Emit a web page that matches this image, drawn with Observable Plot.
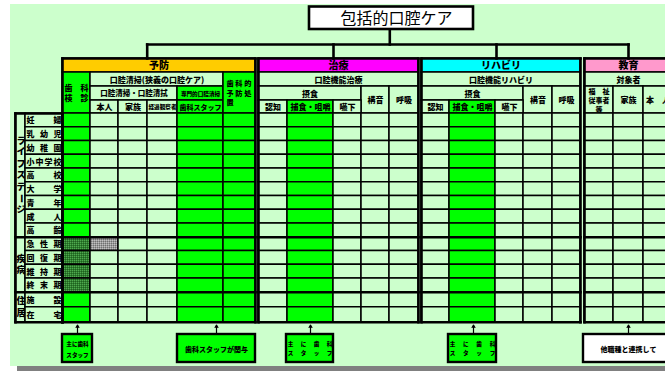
<!DOCTYPE html>
<html><head><meta charset="utf-8">
<script src="https://cdn.jsdelivr.net/npm/d3@7"></script>
<script src="https://cdn.jsdelivr.net/npm/@observablehq/plot@0.6"></script>
<style>body{margin:0;background:#fff}</style>
</head><body><div id="chart"></div>
<script>
// ---------- data ----------
const title = "包括的口腔ケア";
const sections = ["予防", "治療", "リハビリ", "教育"];
const sectionColors = ["#ffcc00", "#ff00ff", "#00ffff", "#ff99cc"];
const rowGroups = ["ライフステージ", "疾病", "住居"];
const rowGroupSizes = [9, 4, 2];
const rowLabels = ["妊婦", "乳幼児", "幼稚園", "小中学校", "高校", "大学", "青年", "成人", "高齢",
                   "急性期", "回復期", "維持期", "終末期", "施設", "在宅"];
const preventionColumns = ["歯科検診", "本人", "家族", "経過観察者", "歯科スタッフ", "歯科的予防処置"];
const treatmentColumns = ["認知", "捕食・咀嚼", "嚥下", "構音", "呼吸"];
const rehabColumns = ["認知", "捕食・咀嚼", "嚥下", "構音", "呼吸"];
const educationColumns = ["福祉従事者等", "家族", "本人"];
const sectionColumns = [preventionColumns, treatmentColumns, rehabColumns, educationColumns];
const greenColumns = [["歯科検診", "歯科スタッフ", "歯科的予防処置"], ["捕食・咀嚼"], ["捕食・咀嚼"], []];
const hatchedDark = {section: "予防", column: "歯科検診", rows: ["急性期", "回復期", "維持期", "終末期"]};
const hatchedGray = {section: "予防", column: "本人", rows: ["急性期"]};
const subTitles = ["口腔清掃(狭義の口腔ケア)", "口腔機能治療", "口腔機能リハビリ", "対象者"];
const notes = ["主に歯科\nスタッフ", "歯科スタッフが関与", "主に歯科|スタッフ", "主に歯科|スタッフ", "他職種と連携して"];
const noteGreen = [true, true, true, true, false];

// ---------- layout ----------
const W = 665, H = 371;
const LIGHT = "#ccffcc", GREEN = "#00ff00";
const hdrY = [58, 72, 86, 100, 113];
const rowY = [113];
for (let i = 0; i < rowLabels.length; i++) rowY.push(rowY[i] + (i < 13 ? 13.75 : 15));
const sectionEdges = [[62, 90, 118, 147, 177, 223, 255], [258, 287, 333, 361, 389, 418],
                      [421, 449, 495, 523, 552, 580], [584, 613, 643, 672]];
const labelEdges = [15, 25, 62];
const noteX = [[62, 92], [177, 255], [286, 333], [448, 496], [583, 700]];
const noteArrowX = [77, 216, 310, 473, 628];
const noteY = [334, 362];

// header cell structure (grid indices)
const headerCells = [
  [
    {c: [0, 1], r: [1, 4], text: "歯　科|検　診", green: true, mode: "split", gap: 9.5},
    {c: [1, 5], r: [1, 2], text: subTitles[0]},
    {c: [1, 4], r: [2, 3], text: "口腔清掃・口腔清拭", size: 7.5},
    {c: [4, 5], r: [2, 3], text: "専門的口腔清掃", green: true, size: 5.6},
    {c: [1, 2], r: [3, 4], text: preventionColumns[1]},
    {c: [2, 3], r: [3, 4], text: preventionColumns[2]},
    {c: [3, 4], r: [3, 4], text: preventionColumns[3], size: 5.6},
    {c: [4, 5], r: [3, 4], text: preventionColumns[4], green: true, size: 7},
    {c: [5, 6], r: [1, 4], text: "歯 科 的|予 防 処|置", green: true, mode: "left", gap: 9.4}
  ],
  [
    {c: [0, 5], r: [1, 2], text: subTitles[1]},
    {c: [0, 3], r: [2, 3], text: "摂食"},
    {c: [3, 4], r: [2, 4], text: treatmentColumns[3]},
    {c: [4, 5], r: [2, 4], text: treatmentColumns[4]},
    {c: [0, 1], r: [3, 4], text: treatmentColumns[0]},
    {c: [1, 2], r: [3, 4], text: treatmentColumns[1], green: true},
    {c: [2, 3], r: [3, 4], text: treatmentColumns[2]}
  ],
  [
    {c: [0, 5], r: [1, 2], text: subTitles[2]},
    {c: [0, 3], r: [2, 3], text: "摂食"},
    {c: [3, 4], r: [2, 4], text: rehabColumns[3]},
    {c: [4, 5], r: [2, 4], text: rehabColumns[4]},
    {c: [0, 1], r: [3, 4], text: rehabColumns[0]},
    {c: [1, 2], r: [3, 4], text: rehabColumns[1], green: true},
    {c: [2, 3], r: [3, 4], text: rehabColumns[2]}
  ],
  [
    {c: [0, 3], r: [1, 2], text: subTitles[3]},
    {c: [0, 1], r: [2, 4], text: "福　祉|従事者|等", size: 7, mode: "split", gap: 9},
    {c: [1, 2], r: [2, 4], text: educationColumns[1]},
    {c: [2, 3], r: [2, 4], text: "本　人"}
  ]
];

// ---------- build geometry ----------
const rects = [];
const texts = [];
const leftTexts = [];
const glyphs = [];
const thick = [];

rects.push({x1: 10, x2: W, y1: 4, y2: 366, fill: LIGHT, stroke: "none"});
rects.push({x1: 17, x2: W, y1: 366, y2: H, fill: "#808080", stroke: "none"});

sections.forEach((s, si) => {
  const ex = sectionEdges[si];
  const cols = sectionColumns[si];
  rects.push({x1: ex[0], x2: ex[ex.length - 1], y1: hdrY[0], y2: hdrY[1], fill: sectionColors[si], stroke: "black"});
  texts.push({x: (ex[0] + ex[ex.length - 1]) / 2, y: (hdrY[0] + hdrY[1]) / 2 + 0.5, text: s, size: 10});
  headerCells[si].forEach(h => {
    const x1 = ex[h.c[0]], x2 = ex[h.c[1]], y1 = hdrY[h.r[0]], y2 = hdrY[h.r[1]];
    rects.push({x1, x2, y1, y2, fill: h.green ? GREEN : LIGHT, stroke: "black"});
    if (h.mode === "split" || h.mode === "left") {
      const lines = h.text.split("|");
      const yc = (y1 + y2) / 2 + 0.5;
      lines.forEach((line, li) => {
        const y = yc + (li - (lines.length - 1) / 2) * h.gap;
        if (h.mode === "left") leftTexts.push({x: x1 + 3, y, text: line, size: 7.2});
        else texts.push({x: (x1 + x2) / 2, y, text: line, size: h.size || 8});
      });
    } else {
      texts.push({x: (x1 + x2) / 2, y: (y1 + y2) / 2 + 0.5, text: h.text, size: h.size || 8});
    }
  });
  cols.forEach((col, ci) => {
    rowLabels.forEach((row, ri) => {
      let fill = greenColumns[si].includes(col) ? GREEN : LIGHT;
      if (s === hatchedDark.section && col === hatchedDark.column && hatchedDark.rows.includes(row)) fill = "url(#hatchDark)";
      if (s === hatchedGray.section && col === hatchedGray.column && hatchedGray.rows.includes(row)) fill = "url(#hatchGray)";
      rects.push({x1: ex[ci], x2: ex[ci + 1], y1: rowY[ri], y2: rowY[ri + 1], fill, stroke: "black"});
    });
  });
});

// left label area
let start = 0;
rowGroups.forEach((g, gi) => {
  const n = rowGroupSizes[gi];
  const y1 = rowY[start], y2 = rowY[start + n];
  rects.push({x1: labelEdges[0], x2: labelEdges[1], y1, y2, fill: LIGHT, stroke: "black"});
  const chars = [...g];
  const step = 11.5;
  const yc = (y1 + y2) / 2;
  chars.forEach((ch, k) => glyphs.push({x: 20.5, y: yc + (k - (chars.length - 1) / 2) * step, text: ch, size: 9, rotate: ch === "ー" ? 90 : 0}));
  start += n;
});
rowLabels.forEach((lab, ri) => {
  rects.push({x1: labelEdges[1], x2: labelEdges[2], y1: rowY[ri], y2: rowY[ri + 1], fill: LIGHT, stroke: "black"});
  const chars = [...lab];
  const a = labelEdges[1] + 5, b = labelEdges[2] - 5;
  chars.forEach((ch, k) => glyphs.push({x: a + k * (b - a) / (chars.length - 1), y: (rowY[ri] + rowY[ri + 1]) / 2 + 0.5, text: ch, size: 8, rotate: 0}));
});

// thick outlines
function box(x1, x2, y1, y2) {
  thick.push({x1, y1, x2, y2: y1}, {x1, y1: y2, x2, y2}, {x1, y1, x2: x1, y2}, {x1: x2, y1, x2, y2});
}
sections.forEach((s, si) => {
  const ex = sectionEdges[si];
  box(ex[0], ex[ex.length - 1], hdrY[0], rowY[rowY.length - 1]);
  [9, 13].forEach(k => thick.push({x1: ex[0], x2: ex[ex.length - 1], y1: rowY[k], y2: rowY[k]}));
});
box(labelEdges[0], labelEdges[2], rowY[0], rowY[rowY.length - 1]);
[9, 13].forEach(k => thick.push({x1: labelEdges[0], x2: labelEdges[2], y1: rowY[k], y2: rowY[k]}));

// tree connectors
const titleBox = {x1: 309, x2: 473, y1: 6.5, y2: 29};
const busY = 44;
const drops = [146.7, 333, 496, 628];
thick.push({x1: 389.3, x2: 389.3, y1: titleBox.y2, y2: busY});
thick.push({x1: drops[0], x2: drops[drops.length - 1], y1: busY, y2: busY});
drops.forEach(x => thick.push({x1: x, x2: x, y1: busY, y2: hdrY[0]}));

// notes
const noteTexts = [], noteArrows = [];
notes.forEach((t, i) => {
  const [x1, x2] = noteX[i];
  rects.push({x1, x2, y1: noteY[0], y2: noteY[1], fill: noteGreen[i] ? GREEN : "white", stroke: "black", note: true});
  noteArrows.push({x: noteArrowX[i], y1: 333, y2: 324.5});
  if (t.includes("|")) {
    t.split("|").forEach((line, li) => {
      const chars = [...line];
      const a = x1 + 4, b = x2 - 4;
      chars.forEach((ch, k) => glyphs.push({x: a + k * (b - a) / (chars.length - 1), y: 343.5 + li * 9.5, text: ch, size: 5.6, rotate: 0}));
    });
  } else if (t.includes("\n")) {
    t.split("\n").forEach((line, li) => noteTexts.push({x: (x1 + x2) / 2, y: 343.5 + li * 11.5, text: line, size: 5.6}));
  } else {
    noteTexts.push({x: i === 4 ? noteArrowX[i] : (x1 + x2) / 2, y: 349, text: t, size: 7});
  }
});

const font = "'Noto Sans CJK JP', 'Noto Sans', sans-serif";
const txt = {x: "x", y: "y", text: "text", fontSize: "size", fontWeight: 900, fill: "black"};

const chart = Plot.plot({
  width: W, height: H, margin: 0,
  x: {domain: [0, W], range: [0, W], axis: null},
  y: {domain: [0, H], range: [0, H], axis: null},
  color: {type: "identity"},
  style: {fontFamily: font, background: "white"},
  marks: [
    Plot.rect(rects.filter(d => d.stroke === "none"), {x1: "x1", x2: "x2", y1: "y1", y2: "y2", fill: "fill"}),
    Plot.rect(rects.filter(d => d.stroke !== "none" && !d.note), {x1: "x1", x2: "x2", y1: "y1", y2: "y2", fill: "fill", stroke: "black", strokeWidth: 1.5}),
    Plot.link(thick, {x1: "x1", y1: "y1", x2: "x2", y2: "y2", stroke: "black", strokeWidth: 2.6, strokeLinecap: "square"}),
    Plot.rect([titleBox], {x1: "x1", x2: "x2", y1: "y1", y2: "y2", fill: "white", stroke: "black", strokeWidth: 2.6}),
    Plot.text([titleBox], {x: d => (d.x1 + d.x2) / 2 + 5, y: d => (d.y1 + d.y2) / 2 + 0.5, text: () => title, fontSize: 16, fill: "black", fontWeight: "normal"}),
    Plot.rect(rects.filter(d => d.note), {x1: "x1", x2: "x2", y1: "y1", y2: "y2", fill: "fill", stroke: "black", strokeWidth: 2.4}),
    Plot.arrow(noteArrows, {x1: "x", x2: "x", y1: "y1", y2: "y2", stroke: "black", strokeWidth: 1.2, headLength: 4, bend: 0}),
    Plot.text(texts, txt),
    Plot.text(leftTexts, {...txt, textAnchor: "start"}),
    Plot.text(glyphs, {...txt, rotate: "rotate"}),
    Plot.text(noteTexts, txt)
  ]
});

// patterns for hatched cells
const defs = d3.select(chart).insert("defs", ":first-child");
const pd = defs.append("pattern").attr("id", "hatchDark").attr("width", 2).attr("height", 2).attr("patternUnits", "userSpaceOnUse");
pd.append("rect").attr("width", 2).attr("height", 2).attr("fill", "#2f7f2f");
pd.append("rect").attr("width", 1).attr("height", 1).attr("fill", "#4fa84f");
pd.append("rect").attr("x", 1).attr("y", 1).attr("width", 1).attr("height", 1).attr("fill", "#1f5f1f");
const pg = defs.append("pattern").attr("id", "hatchGray").attr("width", 2).attr("height", 2).attr("patternUnits", "userSpaceOnUse");
pg.append("rect").attr("width", 2).attr("height", 2).attr("fill", "#9a9a9a");
pg.append("rect").attr("width", 1).attr("height", 1).attr("fill", "#c0c0c0");
pg.append("rect").attr("x", 1).attr("y", 1).attr("width", 1).attr("height", 1).attr("fill", "#707070");

document.getElementById("chart").appendChild(chart);
</script>
</body></html>
